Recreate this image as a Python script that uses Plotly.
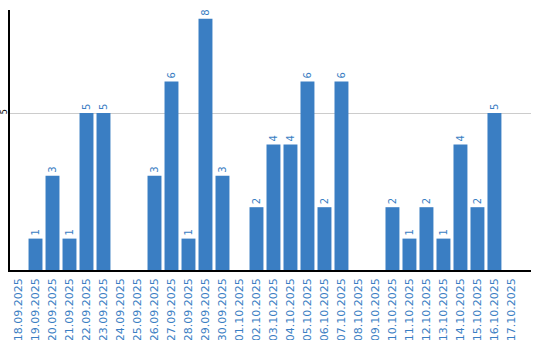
import plotly.graph_objects as go

dates = ["18.09.2025","19.09.2025","20.09.2025","21.09.2025","22.09.2025","23.09.2025",
         "24.09.2025","25.09.2025","26.09.2025","27.09.2025","28.09.2025","29.09.2025",
         "30.09.2025","01.10.2025","02.10.2025","03.10.2025","04.10.2025","05.10.2025",
         "06.10.2025","07.10.2025","08.10.2025","09.10.2025","10.10.2025","11.10.2025",
         "12.10.2025","13.10.2025","14.10.2025","15.10.2025","16.10.2025","17.10.2025"]
counts = [0,1,3,1,5,5,0,0,3,6,1,8,3,0,2,4,4,6,2,6,0,0,2,1,2,1,4,2,5,0]

blue = "#3a7ec3"
labels = [str(v) if v else "" for v in counts]

fig = go.Figure(go.Bar(
    x=list(range(len(dates))), y=counts, text=labels,
    textposition="outside", textangle=-90,
    textfont=dict(family="DejaVu Sans", size=10, color=blue),
    marker=dict(color=blue, line=dict(width=0)),
    cliponaxis=False,
))

fig.update_layout(
    width=540, height=340,
    margin=dict(l=10, r=9, t=10, b=70),
    paper_bgcolor="white", plot_bgcolor="white",
    bargap=0.18, showlegend=False,
    font=dict(family="DejaVu Sans"),
)
fig.update_xaxes(
    tickmode="array", tickvals=list(range(len(dates))), ticktext=dates,
    tickangle=-90, tickfont=dict(size=11, color=blue),
    range=[-0.5, 30.15], showline=True, linecolor="black", linewidth=1.5,
    showgrid=False, ticks="", automargin=False, ticklabelstandoff=2,
)
fig.update_yaxes(
    tickvals=[5], ticktext=["5"], tickangle=-90,
    tickfont=dict(size=8, color="black"),
    range=[0, 8.28], showline=True, linecolor="black", linewidth=1.5,
    showgrid=True, gridcolor="#cccccc", gridwidth=1, zeroline=False,
    ticks="", automargin=False, ticklabelstandoff=-2,
)
fig.write_html("out.html")
